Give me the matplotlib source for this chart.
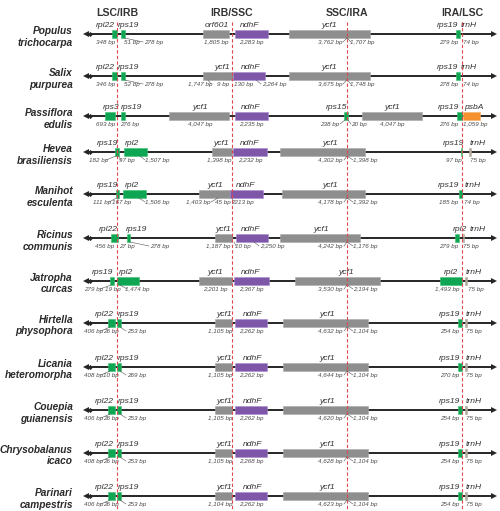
import matplotlib
matplotlib.use('Agg')
import matplotlib.pyplot as plt
from matplotlib.patches import Rectangle

plt.rcParams['font.family'] = ['Liberation Sans', 'DejaVu Sans']

# ---------------- data ----------------
headers = ['LSC/IRB', 'IRB/SSC', 'SSC/IRA', 'IRA/LSC']
junctions = [117, 232, 347, 462]          # schematic junction positions
species_genus = ['Populus', 'Salix', 'Passiflora', 'Hevea', 'Manihot', 'Ricinus',
                 'Jatropha', 'Hirtella', 'Licania', 'Couepia', 'Chrysobalanus', 'Parinari']
species_epithet = ['trichocarpa', 'purpurea', 'edulis', 'brasiliensis', 'esculenta', 'communis',
                   'curcas', 'physophora', 'heteromorpha', 'guianensis', 'icaco', 'campestris']

# genes: (row, name, start, end, kind) on schematic scale
genes = [
    (0, 'rpl22', 112, 117, 'g'), (0, 'rps19', 120.5, 124.5, 'g'), (0, 'orf601', 203, 229, 'y'),
    (0, 'ndhF', 235, 268, 'p'), (0, 'ycf1', 289, 370, 'y'), (0, 'rps19', 455.5, 459.5, 'g'),
    (1, 'rpl22', 112, 117, 'g'), (1, 'rps19', 120.5, 124.5, 'g'), (1, 'ycf1', 203, 233, 'y'),
    (1, 'ndhF', 233, 265, 'p'), (1, 'ycf1', 289, 370, 'y'), (1, 'rps19', 455.5, 459.5, 'g'),
    (2, 'rps3', 105, 115, 'g'), (2, 'rps19', 120.5, 124.5, 'g'), (2, 'ycf1', 169, 229, 'y'),
    (2, 'ndhF', 235, 268, 'p'), (2, 'rps15', 344, 348, 'g'), (2, 'ycf1', 362, 422, 'y'),
    (2, 'rps19', 457, 462, 'g'), (2, 'psbA', 463, 480, 'o'),
    (3, 'rps19', 115, 119.3, 'g'), (3, 'rpl2', 124, 147, 'g'), (3, 'ycf1', 212, 232, 'y'),
    (3, 'ndhF', 233, 267, 'p'), (3, 'ycf1', 280, 365, 'y'), (3, 'rps19', 460.7, 462.3, 'g'),
    (3, 'trnH', 469.3, 470.7, 't'),
    (4, 'rps19', 115.7, 119.3, 'g'), (4, 'rpl2', 123, 146, 'g'), (4, 'ycf1', 199, 230, 'y'),
    (4, 'ndhF', 230, 263, 'p'), (4, 'ycf1', 282, 365, 'y'), (4, 'rps19', 458.7, 462.3, 'g'),
    (5, 'rpl22', 111, 118.3, 'g'), (5, 'rps19', 126.7, 130, 'g'), (5, 'ycf1', 215, 232, 'y'),
    (5, 'ndhF', 236, 268, 'p'), (5, 'ycf1', 280, 360, 'y'), (5, 'rpl2', 454.7, 458.7, 'g'),
    (5, 'trnH', 462.7, 464.2, 't'),
    (6, 'rps19', 110, 114.3, 'g'), (6, 'rpl2', 117, 139, 'g'), (6, 'ycf1', 199, 232, 'y'),
    (6, 'ndhF', 234, 269, 'p'), (6, 'ycf1', 295, 380, 'y'), (6, 'rpl2', 440, 462, 'g'),
    (6, 'trnH', 465, 467, 't'),
]
for r in range(7, 12):
    genes += [(r, 'rpl22', 108, 115, 'g'), (r, 'rps19', 117, 120.7, 'g'), (r, 'ycf1', 215, 232, 'y'),
              (r, 'ndhF', 235, 267, 'p'), (r, 'ycf1', 283, 368, 'y'), (r, 'rps19', 458, 462, 'g'),
              (r, 'trnH', 465, 467, 't')]

# gene name labels: (row, text, x)
gene_labels = [
    (0, 'rpl22', 105), (0, 'rps19', 129), (0, 'orf601', 217), (0, 'ndhF', 250), (0, 'ycf1', 329),
    (0, 'rps19', 448), (0, 'trnH', 469),
    (1, 'rpl22', 105), (1, 'rps19', 129), (1, 'ycf1', 222), (1, 'ndhF', 251), (1, 'ycf1', 329),
    (1, 'rps19', 448), (1, 'trnH', 469),
    (2, 'rps3', 111.5), (2, 'rps19', 131.5), (2, 'ycf1', 200), (2, 'ndhF', 251), (2, 'rps15', 336.5),
    (2, 'ycf1', 392), (2, 'rps19', 449), (2, 'psbA', 474),
    (3, 'rps19', 108), (3, 'rpl2', 131.5), (3, 'ycf1', 221), (3, 'ndhF', 250), (3, 'ycf1', 330),
    (3, 'rps19', 453.5), (3, 'trnH', 478),
    (4, 'rps19', 107.5), (4, 'rpl2', 131.5), (4, 'ycf1', 215), (4, 'ndhF', 246), (4, 'ycf1', 330),
    (4, 'rps19', 449), (4, 'trnH', 472.5),
    (5, 'rpl22', 108), (5, 'rps19', 136.5), (5, 'ycf1', 223), (5, 'ndhF', 251), (5, 'ycf1', 321),
    (5, 'rpl2', 460), (5, 'trnH', 477.5),
    (6, 'rps19', 102.5), (6, 'rpl2', 125.5), (6, 'ycf1', 215.5), (6, 'ndhF', 251), (6, 'ycf1', 346),
    (6, 'rpl2', 451), (6, 'trnH', 474),
]
for r in range(7, 12):
    gene_labels += [(r, 'rpl22', 104.5), (r, 'rps19', 128.5), (r, 'ycf1', 224), (r, 'ndhF', 253),
                    (r, 'ycf1', 327), (r, 'rps19', 450), (r, 'trnH', 474)]

# size labels: (row, text, x, ha, leader (x_at_box, x_at_text) or None)
bp_labels = [
    (0, '348 bp', 106, 'center', None), (0, '51 bp', 132, 'center', None),
    (0, '278 bp', 144, 'left', (124.5, 143)), (0, '1,805 bp', 216, 'center', None),
    (0, '2,283 bp', 251, 'center', None), (0, '3,762 bp', 342, 'right', (347, 343)),
    (0, '1,707 bp', 350, 'left', (347, 351)), (0, '279 bp', 448.5, 'center', None),
    (0, '74 bp', 471, 'center', None),
    (1, '346 bp', 106, 'center', None), (1, '52 bp', 132, 'center', None),
    (1, '278 bp', 144, 'left', (124.5, 143)), (1, '1,747 bp', 200, 'center', (208, 211)),
    (1, '9 bp', 223, 'center', None), (1, '130 bp', 234, 'left', None),
    (1, '2,264 bp', 262, 'left', (256, 261)), (1, '3,675 bp', 342, 'right', (347, 343)),
    (1, '1,748 bp', 350, 'left', (347, 351)), (1, '278 bp', 448.5, 'center', None),
    (1, '74 bp', 471, 'center', None),
    (2, '693 bp', 106, 'center', None), (2, '276 bp', 130, 'center', None),
    (2, '4,047 bp', 200, 'center', None), (2, '2,235 bp', 251, 'center', None),
    (2, '238 bp', 339, 'right', (345, 340)), (2, '20 bp', 351, 'left', (348, 351)),
    (2, '4,047 bp', 392, 'center', None), (2, '276 bp', 449, 'center', None),
    (2, '1,059 bp', 475.5, 'center', None),
    (3, '182 bp', 99, 'center', (116, 106)), (3, '97 bp', 126.5, 'center', (118.5, 121)),
    (3, '1,507 bp', 145, 'left', (140, 145)), (3, '1,398 bp', 219, 'center', None),
    (3, '2,232 bp', 250, 'center', None), (3, '4,302 bp', 343, 'right', (347, 344)),
    (3, '1,398 bp', 353, 'left', (347, 353)), (3, '97 bp', 454, 'center', None),
    (3, '75 bp', 477.5, 'center', None),
    (4, '111 bp', 102.5, 'center', (116.5, 109)), (4, '167 bp', 121.5, 'center', (118.5, 117)),
    (4, '1,506 bp', 145, 'left', (139, 145)), (4, '1,403 bp', 210, 'right', (218, 211)),
    (4, '45 bp', 222.5, 'center', None), (4, '2213 bp', 231.5, 'left', (232, 233)),
    (4, '4,178 bp', 343, 'right', (347, 344)), (4, '1,392 bp', 353, 'left', (347, 353)),
    (4, '185 bp', 449, 'center', None), (4, '74 bp', 471.5, 'center', None),
    (5, '456 bp', 105, 'center', None), (5, '27 bp', 126.5, 'center', None),
    (5, '278 bp', 150, 'left', (130, 149)), (5, '1,187 bp', 218, 'center', None),
    (5, '10 bp', 235, 'left', (234, 236)), (5, '2,250 bp', 260, 'left', (254, 259)),
    (5, '4,242 bp', 343, 'right', (347, 344)), (5, '1,176 bp', 353, 'left', (347, 353)),
    (5, '279 bp', 448.5, 'center', None), (5, '75 bp', 471, 'center', None),
    (6, '279 bp', 93.5, 'center', (111, 100)), (6, '19 bp', 112.5, 'center', None),
    (6, '1,474 bp', 137.5, 'center', (120, 127)), (6, '2,201 bp', 215, 'center', None),
    (6, '2,367 bp', 251, 'center', None), (6, '3,530 bp', 343, 'right', (347, 344)),
    (6, '2,194 bp', 353, 'left', (347, 353)), (6, '1,493 bp', 447.5, 'center', None),
    (6, '75 bp', 475.5, 'center', None),
]
rosid_sizes = [
    ['406 bp', '26 bp', '253 bp', '1,105 bp', '2,262 bp', '4,632 bp', '1,104 bp', '254 bp', '75 bp'],
    ['408 bp', '10 bp', '269 bp', '1,105 bp', '2,262 bp', '4,644 bp', '1,104 bp', '270 bp', '75 bp'],
    ['406 bp', '26 bp', '253 bp', '1,105 bp', '2,262 bp', '4,620 bp', '1,104 bp', '254 bp', '75 bp'],
    ['408 bp', '26 bp', '253 bp', '1,105 bp', '2,268 bp', '4,628 bp', '1,104 bp', '254 bp', '75 bp'],
    ['406 bp', '26 bp', '253 bp', '1,104 bp', '2,262 bp', '4,623 bp', '1,104 bp', '254 bp', '75 bp'],
]
for i, s in enumerate(rosid_sizes):
    r = 7 + i
    bp_labels += [
        (r, s[0], 94, 'center', (110, 101)), (r, s[1], 110.5, 'center', None),
        (r, s[2], 127, 'left', (120, 126)), (r, s[3], 220, 'center', None),
        (r, s[4], 251, 'center', None), (r, s[5], 343, 'right', (347, 344)),
        (r, s[6], 353, 'left', (347, 353)), (r, s[7], 450, 'center', None),
        (r, s[8], 474, 'center', None),
    ]

# ---------------- layout / style ----------------
row_y = [34, 76, 116, 152, 194, 238, 281, 323, 367, 410, 453, 496]
colors = {'g': '#0fa653', 'p': '#7f57a8', 'y': '#8e8e8e', 'o': '#f4902e', 't': '#b2a89c'}
edge = {'g': '#3cc070', 'p': '#a98bd0', 'y': '#a8a8a8', 'o': '#f7b06a', 't': '#b2a89c'}

fig = plt.figure(figsize=(5.0, 5.11), dpi=100)
ax = fig.add_axes([0, 0, 1, 1])
ax.set_xlim(0, 500)
ax.set_ylim(511, 0)
ax.axis('off')

for h, x in zip(headers, junctions):
    ax.text(x, 13, h, ha='center', va='center', fontsize=7.6, fontweight='bold', color='#333333')
    ax.plot([x, x], [22, 511], color='#e0474c', lw=0.8, dashes=(3, 2), zorder=5)

for i, y in enumerate(row_y):
    ax.text(73, y - 3, species_genus[i], ha='right', va='center', fontsize=7.3,
            fontweight='bold', fontstyle='italic', color='#2a2a2a')
    ax.text(73, y + 8.5, species_epithet[i], ha='right', va='center', fontsize=7.3,
            fontweight='bold', fontstyle='italic', color='#2a2a2a')
    ax.plot([86, 493], [y, y], color='#262626', lw=1.4, zorder=2, solid_capstyle='butt')
    ax.plot(86, y, marker='<', ms=4.2, color='#262626', zorder=2, mew=0)
    ax.plot(90, y, marker='D', ms=2.6, color='#262626', zorder=2, mew=0)
    ax.plot(494, y, marker='>', ms=4.2, color='#262626', zorder=2, mew=0)

for r, name, x0, x1, k in genes:
    y = row_y[r]
    ax.add_patch(Rectangle((x0, y - 4.2), x1 - x0, 8.4, facecolor=colors[k], edgecolor=edge[k],
                           lw=0.4, zorder=3))

for r, t, x in gene_labels:
    ax.text(x, row_y[r] - 4.8, t, ha='center', va='bottom', fontsize=6.1, fontstyle='italic',
            color='#333333')

for r, t, x, ha, ld in bp_labels:
    y = row_y[r]
    ax.text(x, y + 6.2, t, ha=ha, va='top', fontsize=4.5, fontstyle='italic', color='#4a4a4a')
    if ld is not None:
        ax.plot([ld[0], ld[1]], [y + 4, y + 8], color='#555555', lw=0.4, zorder=4)

fig.savefig('out.png', dpi=100)
